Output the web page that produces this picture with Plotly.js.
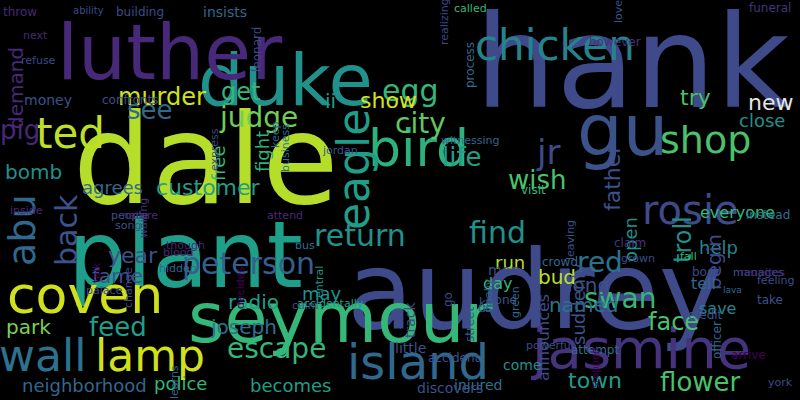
<!DOCTYPE html>
<html><head><meta charset="utf-8">
<script src="https://cdn.plot.ly/plotly-3.0.1.min.js"></script>
<style>html,body{margin:0;background:#000}</style></head>
<body><div id="chart" style="width:800px;height:400px"></div>
<script>
// word cloud: word, centre x, centre y (pixels, top-left origin), font size, angle, colour
const words = ['hank','dale','audrey','duke','luther','gu','plant','seymour','jasmine','coven','wall','lamp','island','chicken','bird','ted','eagle','abu','rosie','shop','egg','return','back','find','jr','city','life','wish','peterson','judge','see','pig','murder','get','customer','year','demand','bomb','agrees','radio','feed','park','escape','joseph','police','neighborhood','becomes','fame','red','swan','face','flower','town','new','close','try','father','troll','help','everyone','begin','long','named','open','bud','run','show','ii','free','fight','may','suddenly','announces','tell','save','money','throw','insists','building','next','refuse','confronts','leonard','process','called','man','day','gone','crowd','claim','boat','take','funeral','instead','credit','arrive','officer','york','injured','discovers','come','track','little','use','go','street','kid','attempt','accident','visit','business','jordan','keep','people','nature','song','though','talk','change','learns','blood','inside','palace','hidden','decides','calm','bus','central','accidentally','finally','green','fall','grown','lava','manages','reunites','feeling','stopped','powerful','waiting','express','attend','witnessing','leaving','realizing','however','love','ability'];
const xs = [632,205,535,285,170,622,185,340,640,85,42,150,418,555,418,70,353,22,690,705,410,360,66,497,548,420,462,537,248,258,150,20,162,240,208,133,16,33,112,253,118,28,276,243,180,84,290,117,600,620,673,700,595,770,762,695,612,683,718,737,714,588,583,630,557,510,388,330,218,262,322,578,543,703,717,48,20,225,140,35,38,130,257,470,470,503,497,502,560,630,705,770,770,768,705,748,717,780,478,450,522,410,410,488,448,470,488,595,453,533,285,340,275,130,140,128,185,96,128,174,178,26,104,178,240,305,305,319,330,488,515,688,638,732,758,762,775,595,550,143,214,285,470,570,444,615,618,88];
const ys = [62,160,290,80,52,130,255,318,348,295,355,355,362,45,148,133,170,230,210,140,90,235,230,232,152,123,157,180,263,117,110,130,97,92,187,255,88,172,187,302,327,327,348,327,383,385,385,276,262,298,322,382,380,102,120,97,178,240,247,212,262,285,305,240,277,262,100,101,163,152,293,304,338,283,308,100,12,12,12,35,60,100,50,65,8,270,283,300,262,243,272,300,8,215,315,355,340,382,385,388,365,320,348,308,300,325,303,350,358,190,148,150,135,215,215,225,245,273,288,382,252,210,290,268,288,305,245,285,303,295,302,256,258,290,272,272,280,368,345,218,150,215,140,240,22,42,12,10,228,45,105];
const sizes = [128,124,108,72,76,72,92,70,56,52,44,44,48,42,52,42,44,38,40,38,30,30,30,30,34,28,26,26,30,28,26,26,24,24,22,22,20,20,18,20,26,20,28,20,18,18,18,20,28,28,24,26,22,22,18,22,22,24,18,16,20,20,20,18,20,18,22,20,18,18,18,18,16,16,16,14,12,14,12,11,11,12,12,12,11,14,16,12,12,12,12,12,12,12,12,12,12,11,14,14,14,14,14,12,12,12,12,12,12,12,11,11,11,11,11,11,11,11,11,11,11,11,11,11,11,11,11,11,11,11,11,11,11,9,11,11,11,10,11,11,11,11,11,11,11,12,11,10,8];
const angles = [0,0,0,0,0,0,0,0,0,0,0,0,0,0,0,0,-90,-90,0,0,0,0,-90,0,0,0,0,0,0,0,0,0,0,0,0,0,-90,0,0,0,0,0,0,0,0,0,0,0,0,0,0,0,0,0,0,0,-90,-90,0,0,-90,0,0,-90,0,0,0,0,-90,-90,0,-90,-90,0,0,0,0,0,0,0,0,0,-90,-90,0,0,0,0,0,0,0,0,0,0,0,0,-90,0,0,0,0,-90,0,0,-90,-90,0,0,0,0,-90,0,-90,0,0,0,0,-90,-90,-90,0,0,0,0,-90,0,0,-90,0,-90,-90,0,0,0,0,0,0,-90,0,-90,-90,0,0,-90,-90,0,-90,0];
const colors = ['#3e4a89','#b5de2b','#3e4a89','#21918c','#482878','#3b528b','#1f9e89','#35b779','#46337e','#d0e11c','#2c728e','#d0e11c','#31688e','#25838e','#2db27d','#bddf26','#1f9e89','#31688e','#3e4a89','#4ac16d','#35b779','#21918c','#3b528b','#21918c','#3e4a89','#5ec962','#1f9e89','#4ac16d','#355f8d','#6ece58','#31688e','#482878','#d0e11c','#35b779','#1f9e89','#3b528b','#482878','#21918c','#31688e','#1f9e89','#1f9e89','#7ad151','#35b779','#2c728e','#35b779','#31688e','#1f9e89','#3b528b','#2c728e','#35b779','#4ac16d','#4ac16d','#1f9e89','#e5e5e5','#21918c','#4ac16d','#3b528b','#21918c','#25838e','#35b779','#3e4a89','#3b528b','#2c728e','#21918c','#bddf26','#b5de2b','#d8e219','#1f9e89','#35b779','#2db27d','#21918c','#3b528b','#3e4a89','#31688e','#25838e','#3b528b','#482878','#31688e','#3e4a89','#482878','#3e4a89','#3b528b','#3e4a89','#31688e','#35b779','#3e4a89','#35b779','#3b528b','#31688e','#46337e','#3e4a89','#3b528b','#46337e','#2c728e','#3b528b','#440154','#31688e','#3e4a89','#2c728e','#3b528b','#21918c','#3e4a89','#3b528b','#3b528b','#3e4a89','#3b528b','#3b528b','#2c728e','#3b528b','#35b779','#2c728e','#3b528b','#31688e','#3b528b','#482878','#3b528b','#482878','#440154','#3e4a89','#31688e','#482878','#482878','#3e4a89','#31688e','#440154','#3e4a89','#2c728e','#21918c','#1f9e89','#31688e','#31688e','#35b779','#3e4a89','#31688e','#3b528b','#482878','#3e4a89','#440154','#3e4a89','#46337e','#3e4a89','#482878','#31688e','#3b528b','#3e4a89','#46337e','#3b528b','#3e4a89','#482878'];

const annotations = words.map((w, i) => ({
  text: w, x: xs[i], y: ys[i], xref: 'x', yref: 'y', showarrow: false,
  textangle: angles[i], xanchor: 'center', yanchor: 'middle',
  font: { family: 'DejaVu Sans', size: sizes[i], color: colors[i] }
}));

const layout = {
  width: 800, height: 400,
  margin: { l: 0, r: 0, t: 0, b: 0 },
  paper_bgcolor: '#000', plot_bgcolor: '#000',
  xaxis: { range: [0, 800], visible: false, fixedrange: true },
  yaxis: { range: [400, 0], visible: false, fixedrange: true },
  annotations,
  showlegend: false
};

Plotly.newPlot('chart', [{ x: [], y: [], type: 'scatter' }], layout, { displayModeBar: false, staticPlot: true });
</script></body></html>
